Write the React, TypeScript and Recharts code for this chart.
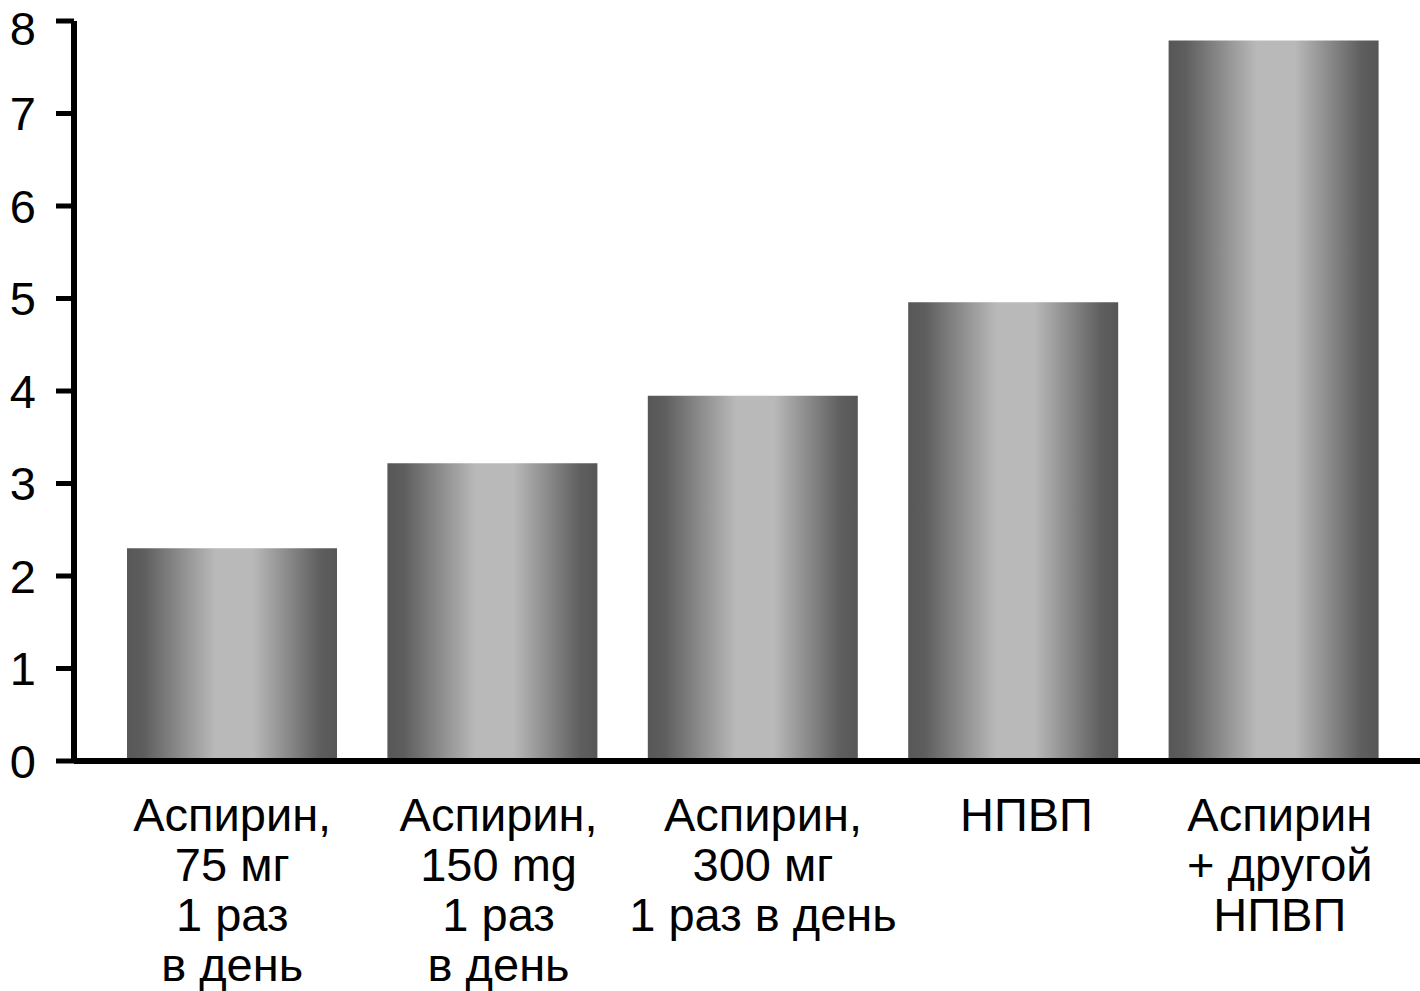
import * as React from "react"
import { BarChart, Bar, XAxis, YAxis } from "recharts"

// categories (line breaks mark the wrapped label lines)
const categories = [
  "Аспирин,\n75 мг\n1 раз\nв день",
  "Аспирин,\n150 mg\n1 раз\nв день",
  "Аспирин,\n300 мг\n1 раз в день",
  "НПВП",
  "Аспирин\n+ другой\nНПВП",
]
const values = [2.3, 3.22, 3.95, 4.96, 7.79]
const yTicks = [0, 1, 2, 3, 4, 5, 6, 7, 8]

// small horizontal nudges for the category labels
const labelShift = [0, 6, 10, 13, 6]

const FONT = "'Liberation Sans', Arial, Helvetica, sans-serif"
const FONT_SIZE = 47
const LINE_H = 50

const data = categories.map((name, i) => ({ name, value: values[i] }))

const CategoryTick = (props: any) => {
  const { x, y, payload, index } = props
  const lines = String(payload.value).split("\n")
  const dx = labelShift[index] ?? 0
  return (
    <text
      x={x + dx}
      y={y}
      textAnchor="middle"
      fontFamily={FONT}
      fontSize={FONT_SIZE}
      fill="#000"
    >
      {lines.map((line, i) => (
        <tspan key={i} x={x + dx} y={y + 62 + i * LINE_H}>
          {line}
        </tspan>
      ))}
    </text>
  )
}

// value tick; the top label is kept clear of the page edge
const ValueTick = (props: any) => {
  const { x, y, payload } = props
  const cy = Math.max(y, 28)
  return (
    <text
      x={x}
      y={cy}
      dy="0.355em"
      textAnchor="end"
      fontFamily={FONT}
      fontSize={FONT_SIZE}
      fill="#000"
    >
      {payload.value}
    </text>
  )
}

export default function App() {
  return (
    <div style={{ position: "absolute", left: 0, top: 0, width: 1420, height: 991, background: "#fff" }}>
      <BarChart
        width={1420}
        height={991}
        data={data}
        margin={{ top: 21, right: 0, bottom: 0, left: 0 }}
      >
        <defs>
          <linearGradient id="barShade" x1="0" y1="0" x2="1" y2="0">
            <stop offset="0" stopColor="#575757" />
            <stop offset="0.08" stopColor="#5e5e5e" />
            <stop offset="0.42" stopColor="#b9b9b9" />
            <stop offset="0.6" stopColor="#b9b9b9" />
            <stop offset="0.92" stopColor="#5e5e5e" />
            <stop offset="1" stopColor="#575757" />
          </linearGradient>
        </defs>
        <XAxis
          dataKey="name"
          height={230}
          padding={{ left: 28, right: 16 }}
          axisLine={{ stroke: "#000", strokeWidth: 6 }}
          tickLine={false}
          tick={<CategoryTick />}
          interval={0}
        />
        <YAxis
          width={74}
          domain={[0, 8]}
          ticks={yTicks}
          interval={0}
          axisLine={{ stroke: "#000", strokeWidth: 6 }}
          tickLine={{ stroke: "#000", strokeWidth: 5 }}
          tickSize={18}
          tickMargin={20}
          tick={<ValueTick />}
        />
        <Bar dataKey="value" fill="url(#barShade)" barSize={210} isAnimationActive={false} />
      </BarChart>
    </div>
  )
}
